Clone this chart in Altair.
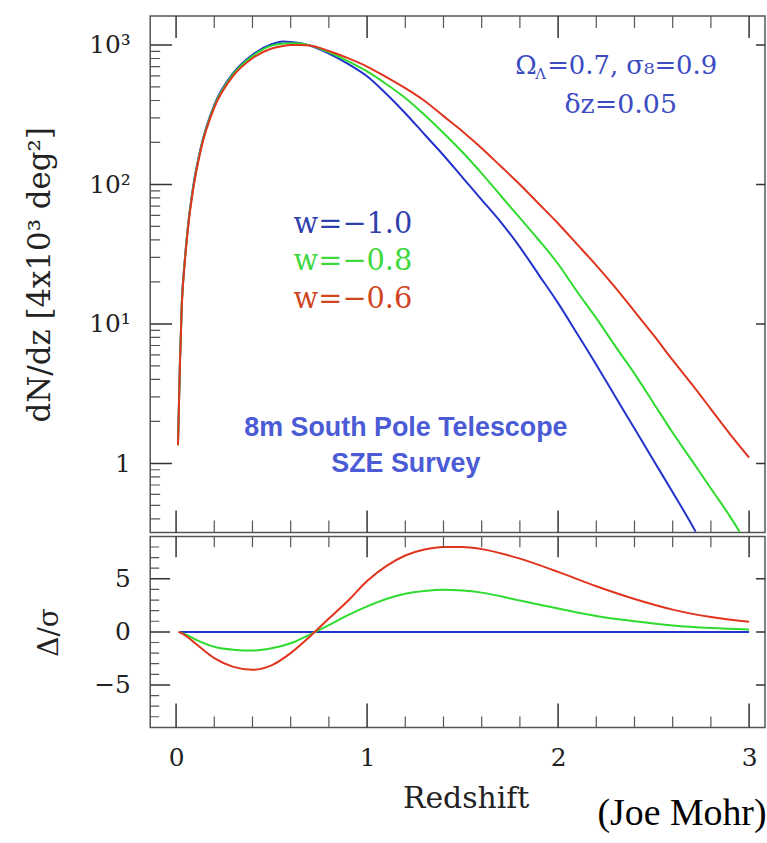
import altair as alt
import pandas as pd

# ---------------- data ----------------
# top panel: dN/dz for three equations of state
z_blue = [0.01, 0.02, 0.03, 0.045, 0.066, 0.09, 0.13, 0.2, 0.3, 0.4, 0.5, 0.56, 0.6, 0.65, 0.7,
          0.8, 0.9, 1.0, 1.1, 1.2, 1.3, 1.4, 1.5, 1.6, 1.7, 1.8, 1.9, 2.0, 2.1, 2.2, 2.3, 2.4,
          2.5, 2.6, 2.7, 2.72]
dn_blue = [1.38, 5.2, 14.1, 28.2, 56, 98, 186, 372, 631, 851, 1012, 1059, 1052, 1028, 989,
           867, 733, 597, 447, 324, 229, 162, 112, 77.6, 53.7, 35.5, 22.4, 14.1, 8.5, 5.1, 3.0,
           1.78, 1.05, 0.62, 0.363, 0.324]

z_green = [0.01, 0.02, 0.03, 0.045, 0.066, 0.09, 0.13, 0.2, 0.3, 0.4, 0.5, 0.56, 0.6, 0.65, 0.7,
           0.8, 0.9, 1.0, 1.1, 1.2, 1.3, 1.4, 1.5, 1.6, 1.7, 1.8, 1.9, 2.0, 2.1, 2.2, 2.3, 2.4,
           2.5, 2.6, 2.7, 2.8, 2.9, 2.95]
dn_green = [1.35, 5.1, 13.8, 27.5, 55, 95, 182, 363, 617, 832, 989, 1023, 1030, 1023, 993,
            887, 767, 646, 525, 417, 316, 234, 170, 120, 83, 57.5, 39.8, 26.9, 17.0, 11.0, 6.9,
            4.4, 2.7, 1.66, 1.05, 0.66, 0.417, 0.324]

z_red = [0.01, 0.02, 0.03, 0.045, 0.066, 0.09, 0.13, 0.2, 0.3, 0.4, 0.5, 0.56, 0.6, 0.65, 0.7,
         0.8, 0.9, 1.0, 1.1, 1.2, 1.3, 1.4, 1.5, 1.6, 1.7, 1.8, 1.9, 2.0, 2.1, 2.2, 2.3, 2.4,
         2.5, 2.6, 2.7, 2.8, 2.9, 3.0]
dn_red = [1.35, 5.0, 13.5, 26.9, 53.7, 93, 178, 355, 603, 804, 944, 984, 998, 1000, 993,
          906, 804, 700, 589, 490, 398, 309, 240, 182, 135, 100, 72.4, 52.5, 37.2, 26.3, 18.2,
          12.3, 8.3, 5.5, 3.7, 2.45, 1.62, 1.10]

# bottom panel: Delta / sigma
z_diff = [0.014, 0.05, 0.1, 0.2, 0.3, 0.4, 0.5, 0.6, 0.7, 0.8, 0.9, 1.0, 1.1, 1.2, 1.3, 1.4,
          1.5, 1.6, 1.8, 2.0, 2.2, 2.4, 2.6, 2.8, 3.0]
diff_red = [0, -0.35, -1.07, -2.48, -3.3, -3.57, -3.15, -2.0, -0.45, 1.26, 2.93, 4.8, 6.2,
            7.2, 7.76, 8.0, 8.0, 7.8, 6.9, 5.65, 4.3, 3.1, 2.1, 1.4, 0.95]
diff_green = [0, -0.25, -0.7, -1.4, -1.68, -1.76, -1.55, -1.07, -0.25, 0.64, 1.57, 2.4, 3.1,
              3.6, 3.86, 3.97, 3.9, 3.7, 2.95, 2.2, 1.5, 1.0, 0.6, 0.36, 0.23]
z_diff_blue = [0.014, 3.0]
diff_blue = [0.0, 0.0]

# tick positions
x_major = [0, 1, 2, 3]
x_minor = [0.2, 0.4, 0.6, 0.8, 1.2, 1.4, 1.6, 1.8, 2.2, 2.4, 2.6, 2.8]
ytop_major = [1, 10, 100, 1000]
ytop_minor = [0.4, 0.5, 0.6, 0.7, 0.8, 0.9, 2, 3, 4, 5, 6, 7, 8, 9, 20, 30, 40, 50, 60, 70,
              80, 90, 200, 300, 400, 500, 600, 700, 800, 900]
ybot_major = [-5, 0, 5]
ybot_minor = [-8, -7, -6, -4, -3, -2, -1, 1, 2, 3, 4, 6, 7, 8]

# labels
w_labels = ["w=\u22121.0", "w=\u22120.8", "w=\u22120.6"]
w_label_z = [0.615, 0.615, 0.615]
w_label_v = [51.8, 28.2, 15.1]
spt_labels = ["8m South Pole Telescope", "SZE Survey"]
spt_z = [1.203, 1.203]
spt_v = [1.78, 0.985]

BLUE, GREEN, RED = "#2233cc", "#2edb2e", "#e0341f"
W, HT, HB = 618, 519, 192
SERIF = "DejaVu Serif"

x_scale = alt.Scale(domain=[-0.1354, 3.0833], nice=False, zero=False)
yt_scale = alt.Scale(type="log", domain=[0.32, 1611], nice=False)
yb_scale = alt.Scale(domain=[-9, 9], nice=False, zero=False)

yaxis_top = alt.Axis(orient="left", values=ytop_major,
                     labelExpr="datum.value == 1 ? '1' : datum.value == 10 ? '10\u00b9' : datum.value == 100 ? '10\u00b2' : '10\u00b3'",
                     ticks=False, domain=False, grid=False, labelFont=SERIF, labelFontSize=25,
                     labelColor="#222", labelPadding=20,
                     title="dN/dz  [4x10\u00b3 deg\u00b2]", titleFont=SERIF, titleFontSize=31,
                     titleFontWeight="normal", titleColor="#222", titleX=-110, titleY=HT / 2,
                     titleAngle=-90, titleAlign="center", titleBaseline="middle")
yaxis_bot = alt.Axis(orient="left", values=ybot_major, ticks=False, domain=False, grid=False,
                     labelFont=SERIF, labelFontSize=25, labelColor="#222", labelPadding=20,
                     title="\u0394/\u03c3", titleFont=SERIF, titleFontSize=28,
                     titleFontWeight="normal", titleColor="#222", titleX=-101, titleY=HB / 2,
                     titleAngle=-90, titleAlign="center", titleBaseline="middle")
xaxis_bot = alt.Axis(orient="bottom", values=x_major, ticks=False, domain=False, grid=False,
                     labelFont=SERIF, labelFontSize=25, labelColor="#222", labelPadding=18,
                     title="Redshift", titleFont=SERIF, titleFontSize=30, titleFontWeight="normal",
                     titleColor="#222", titlePadding=14, titleX=317)


def X(field, xaxis=None):
    return alt.X(field, scale=x_scale, axis=xaxis)


# tick marks drawn as zero-width stroked rectangles placed through the scales
def xticks(vals, y0, y1, sw=1.5, color="#333"):
    return alt.Chart(pd.DataFrame({"t": vals})).mark_rect(
        stroke=color, strokeWidth=sw, fillOpacity=0).encode(
        x=X("t:Q"), x2=alt.X2("t:Q"), y=alt.value(y0), y2=alt.value(y1))


def yticks(vals, scale, x0, x1, sw=1.5, color="#333"):
    return alt.Chart(pd.DataFrame({"t": vals})).mark_rect(
        stroke=color, strokeWidth=sw, fillOpacity=0).encode(
        y=alt.Y("t:Q", scale=scale, axis=None), y2=alt.Y2("t:Q"),
        x=alt.value(x0), x2=alt.value(x1))


def line(zs, vs, color, yscale, yaxis=None, xaxis=None):
    return alt.Chart(pd.DataFrame({"z": zs, "v": vs})).mark_line(
        color=color, strokeWidth=2, interpolate="monotone", clip=True).encode(
        x=X("z:Q", xaxis), y=alt.Y("v:Q", scale=yscale, axis=yaxis))


def YT(field):
    return alt.Y(field, scale=yt_scale, axis=None)


# annotation texts (top)
w_df = pd.DataFrame({"z": w_label_z, "v": w_label_v, "label": w_labels,
                     "c": ["#2f3fae", "#3fd83f", "#d0451f"]})
w_text = alt.Chart(w_df).mark_text(font=SERIF, fontSize=29, align="left", baseline="middle").encode(
    x=X("z:Q"), y=YT("v:Q"), text="label:N", color=alt.Color("c:N", scale=None))

spt_df = pd.DataFrame({"z": spt_z, "v": spt_v, "label": spt_labels})
spt_text = alt.Chart(spt_df).mark_text(font="Liberation Sans", fontWeight="bold", fontSize=27,
                                        align="center", baseline="middle", color="#4b5bd6").encode(
    x=X("z:Q"), y=YT("v:Q"), text="label:N")

cos_df = pd.DataFrame({"z": [1.776], "v": [708]})
COSC = "#3c4cc4"
omega = alt.Chart(cos_df).mark_text(font=SERIF, fontSize=26, align="left", baseline="middle",
                                     color=COSC, text="\u03a9").encode(x=X("z:Q"), y=YT("v:Q"))
lam = alt.Chart(cos_df).mark_text(font=SERIF, fontSize=15, align="left", baseline="middle",
                                   color=COSC, text="\u039b", dx=20, dy=8).encode(
    x=X("z:Q"), y=YT("v:Q"))
rest = alt.Chart(cos_df).mark_text(font=SERIF, fontSize=26, align="left", baseline="middle",
                                    color=COSC, text="=0.7,  \u03c3\u2088=0.9", dx=32).encode(
    x=X("z:Q"), y=YT("v:Q"))
dz_df = pd.DataFrame({"z": [2.328], "v": [373]})
dz_text = alt.Chart(dz_df).mark_text(font=SERIF, fontSize=27, align="center", baseline="middle",
                                      color=COSC, text="\u03b4z=0.05").encode(
    x=X("z:Q"), y=YT("v:Q"))

top = alt.layer(
    line(z_blue, dn_blue, BLUE, yt_scale, yaxis=yaxis_top),
    line(z_green, dn_green, GREEN, yt_scale),
    line(z_red, dn_red, RED, yt_scale),
    w_text, spt_text, omega, lam, rest, dz_text,
    xticks(x_major, 0, 22), xticks(x_minor, 0, 12, 1.2, "#555"),
    xticks(x_major, HT, HT - 22), xticks(x_minor, HT, HT - 12, 1.2, "#555"),
    yticks(ytop_major, yt_scale, 0, 22),
    yticks(ytop_minor, yt_scale, 0, 10, 1.2, "#555"),
    yticks(ytop_major, yt_scale, W - 9, W),
).resolve_axis(x="independent", y="independent").properties(width=W, height=HT)

bottom = alt.layer(
    line(z_diff_blue, diff_blue, BLUE, yb_scale, yaxis=yaxis_bot, xaxis=xaxis_bot),
    line(z_diff, diff_green, GREEN, yb_scale),
    line(z_diff, diff_red, RED, yb_scale),
    xticks(x_major, 0, 21), xticks(x_minor, 0, 11, 1.2, "#555"),
    xticks(x_major, HB, HB - 24), xticks(x_minor, HB, HB - 11, 1.2, "#555"),
    yticks(ybot_major, yb_scale, 0, 20),
    yticks(ybot_minor, yb_scale, 0, 9, 1.2, "#555"),
    yticks(ybot_major, yb_scale, W - 9, W),
).resolve_axis(x="independent", y="independent").properties(width=W, height=HB)

chart = alt.vconcat(top, bottom, spacing=0).properties(
    padding={"left": 24, "top": 12, "right": 0, "bottom": 0},
    background="white",
    title=alt.TitleParams(text="(Joe Mohr)", orient="bottom", anchor="end",
                          font="Liberation Serif", fontSize=38, fontWeight="normal",
                          color="black", offset=-20),
).configure_view(stroke="#555", strokeWidth=1.5)

chart.save("out.html", embed_options={"renderer": "svg", "actions": False})
